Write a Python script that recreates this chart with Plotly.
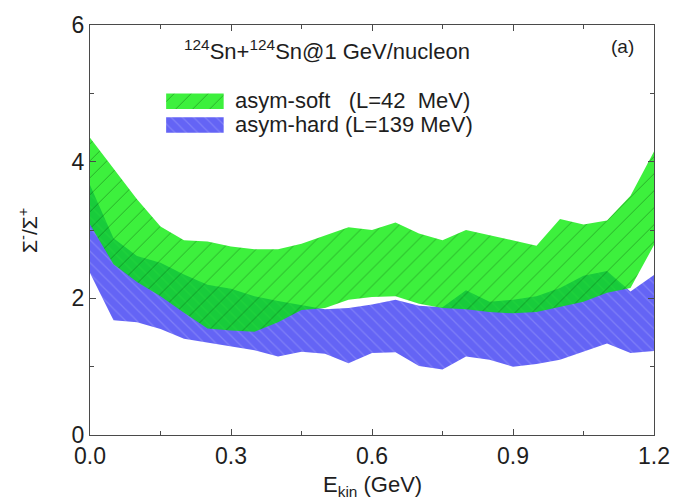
import plotly.graph_objects as go

# Kinetic energy grid (GeV)
e_kin = [0.00, 0.05, 0.10, 0.15, 0.20, 0.25, 0.30, 0.35, 0.40, 0.45, 0.50, 0.55,
         0.60, 0.65, 0.70, 0.75, 0.80, 0.85, 0.90, 0.95, 1.00, 1.05, 1.10, 1.15, 1.20]

# asym-soft (L=42 MeV) band edges
soft_upper = [4.35, 3.90, 3.45, 3.05, 2.85, 2.83, 2.76, 2.72, 2.72, 2.80, 2.92, 3.04,
              3.00, 3.11, 2.95, 2.85, 3.00, 2.92, 2.85, 2.77, 3.16, 3.08, 3.14, 3.50, 4.15]
soft_lower = [3.08, 2.50, 2.24, 2.03, 1.79, 1.56, 1.53, 1.51, 1.65, 1.83, 1.86, 1.98,
              2.02, 2.03, 1.92, 1.86, 1.84, 1.80, 1.78, 1.80, 1.88, 1.95, 2.08, 2.15, 2.78]

# asym-hard (L=139 MeV) band edges
hard_upper = [3.66, 2.88, 2.62, 2.52, 2.35, 2.20, 2.14, 2.03, 1.96, 1.90, 1.84, 1.86,
              1.91, 1.98, 1.89, 1.87, 2.12, 1.95, 1.98, 2.03, 2.15, 2.33, 2.40, 2.10, 2.34]
hard_lower = [2.37, 1.68, 1.65, 1.55, 1.41, 1.36, 1.30, 1.24, 1.15, 1.22, 1.19, 1.05,
              1.20, 1.21, 1.01, 0.96, 1.15, 1.10, 1.00, 1.04, 1.10, 1.22, 1.34, 1.20, 1.23]

x_ticks = [0.0, 0.3, 0.6, 0.9, 1.2]
y_ticks = [0, 2, 4, 6]

GREEN = "rgba(0,235,0,0.76)"
BLUE = "rgb(100,100,245)"
FONT = "Liberation Sans, Arial, sans-serif"
AXIS_COLOR = "#4a4a4a"
TEXT_COLOR = "#1e1e1e"

green_pattern = dict(shape="/", fgcolor="rgba(0,50,0,0.8)", bgcolor=GREEN,
                     size=12, solidity=0.07)
blue_pattern = dict(shape="\\", fgcolor="rgba(255,255,255,0.35)", bgcolor=BLUE,
                    size=8, solidity=0.15)


def band(lower, upper, color, pattern):
    return go.Scatter(
        x=e_kin + e_kin[::-1],
        y=upper + lower[::-1],
        fill="toself",
        fillcolor=color,
        fillpattern=pattern,
        line=dict(width=0),
        mode="lines",
        hoverinfo="skip",
        showlegend=False,
    )


fig = go.Figure()
fig.add_trace(band(hard_lower, hard_upper, BLUE, blue_pattern))
fig.add_trace(band(soft_lower, soft_upper, GREEN, green_pattern))


# Legend swatches on an overlay axis spanning the plot area (0..1)
def swatch(x0, x1, y0, y1, color, pattern):
    return go.Scatter(
        x=[x0, x1, x1, x0, x0], y=[y0, y0, y1, y1, y0],
        xaxis="x2", yaxis="y2",
        fill="toself", fillcolor=color, fillpattern=pattern,
        line=dict(width=0), mode="lines", hoverinfo="skip", showlegend=False,
    )


fig.add_trace(swatch(0.135, 0.237, 0.795, 0.833, GREEN, green_pattern))
fig.add_trace(swatch(0.135, 0.237, 0.737, 0.775, BLUE, blue_pattern))

axis_common = dict(
    showline=True, linecolor=AXIS_COLOR, linewidth=1.4, mirror="allticks",
    ticks="inside", ticklen=6, tickwidth=1.2, tickcolor=AXIS_COLOR,
    showgrid=False, zeroline=False,
    tickfont=dict(family=FONT, size=23, color=TEXT_COLOR),
)

fig.update_layout(
    width=682, height=499,
    margin=dict(l=90, r=17, t=12, b=64),
    plot_bgcolor="white", paper_bgcolor="white",
    xaxis=dict(range=[0, 1.2], tickvals=x_ticks, ticktext=[f"{v:.1f}" for v in x_ticks],
               minor=dict(dtick=0.15, ticks="inside", ticklen=4, tickcolor=AXIS_COLOR),
               **axis_common),
    yaxis=dict(range=[0, 6], tickvals=y_ticks,
               minor=dict(dtick=1, ticks="inside", ticklen=4, tickcolor=AXIS_COLOR),
               **axis_common),
    xaxis2=dict(range=[0, 1], overlaying="x", visible=False),
    yaxis2=dict(range=[0, 1], overlaying="y", visible=False),
    font=dict(family=FONT, color=TEXT_COLOR),
    annotations=[
        dict(text="<sup>124</sup>Sn+<sup>124</sup>Sn@1 GeV/nucleon", xref="paper", yref="paper",
             x=0.42, y=0.94, xanchor="center", yanchor="middle",
             showarrow=False, font=dict(size=22)),
        dict(text="(a)", xref="paper", yref="paper", x=0.945, y=0.948,
             xanchor="center", yanchor="middle", showarrow=False, font=dict(size=19)),
        dict(text="asym-soft\u00a0\u00a0\u00a0(L=42\u00a0\u00a0MeV)", xref="paper", yref="paper",
             x=0.254, y=0.816, xanchor="left", yanchor="middle",
             showarrow=False, font=dict(size=22)),
        dict(text="asym-hard (L=139 MeV)", xref="paper", yref="paper",
             x=0.254, y=0.758, xanchor="left", yanchor="middle",
             showarrow=False, font=dict(size=22)),
        dict(text="E<sub>kin</sub> (GeV)", xref="paper", yref="paper",
             x=0.5, y=-0.125, xanchor="center", yanchor="middle",
             showarrow=False, font=dict(size=22)),
        dict(text="Σ<sup>-</sup>/Σ<sup>+</sup>", xref="paper", yref="paper",
             x=-0.11, y=0.5, xanchor="center", yanchor="middle", textangle=-90,
             showarrow=False, font=dict(size=21)),
    ],
)

fig.write_html("out.html")
